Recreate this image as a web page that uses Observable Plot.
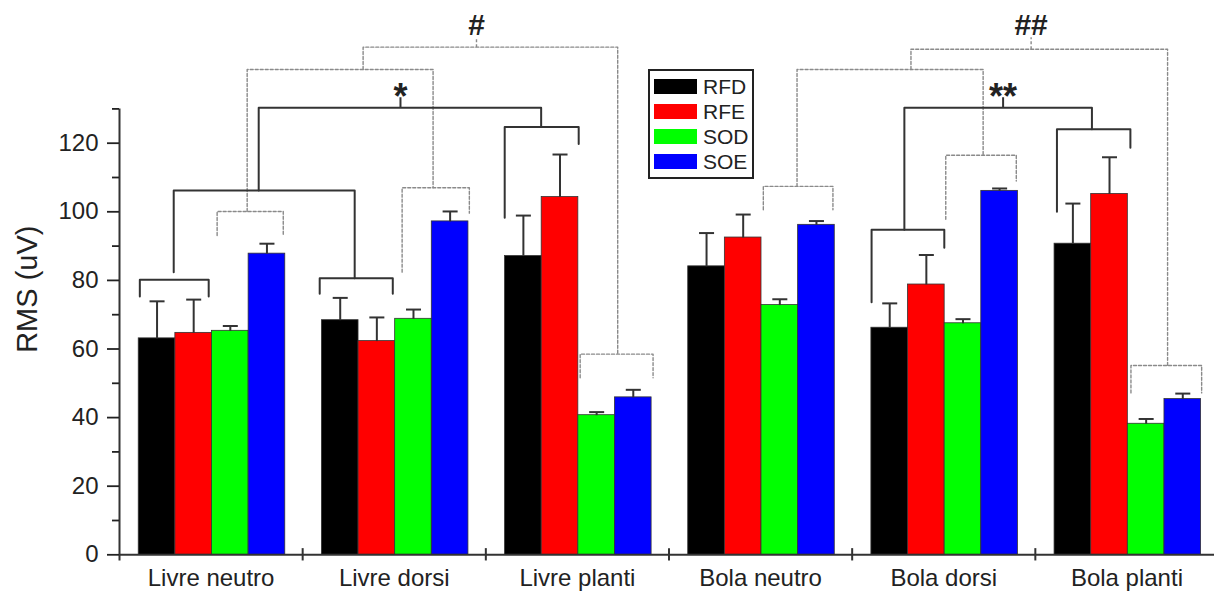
<!DOCTYPE html>
<html><head><meta charset="utf-8">
<script src="https://cdn.jsdelivr.net/npm/d3@7"></script>
<script src="https://cdn.jsdelivr.net/npm/@observablehq/plot@0.6"></script>
<style>
body{margin:0;background:#fff;}
#wrap{position:relative;width:1214px;height:592px;overflow:hidden;background:#fff;}
#legend{position:absolute;left:648px;top:69px;width:102px;height:106px;border:2px solid #222;background:#fff;font-family:"Liberation Sans",Arial,sans-serif;font-size:21px;color:#222;}
.row{position:absolute;left:4px;height:15px;display:flex;align-items:center;}
.sw{width:43px;height:15px;margin-right:6px;}
</style>
</head><body><div id="wrap"><div id="chart"></div><div id="legend"></div></div>
<script>
// ---- data ----
const categories = ["Livre neutro", "Livre dorsi", "Livre planti", "Bola neutro", "Bola dorsi", "Bola planti"];
const series = ["RFD", "RFE", "SOD", "SOE"];
const colors = ["#000000", "#ff0000", "#00ff00", "#0000ff"];

const rfd = [63.1, 68.4, 87.1, 84.1, 66.2, 90.7];
const rfe = [64.7, 62.3, 104.3, 92.5, 78.8, 105.2];
const sod = [65.3, 68.8, 40.7, 72.8, 67.5, 38.2];
const soe = [87.8, 97.2, 45.9, 96.2, 106.1, 45.4];

const rfdErr = [10.8, 6.5, 11.8, 9.7, 7.1, 11.7];
const rfeErr = [9.7, 6.9, 12.4, 6.7, 8.6, 10.7];
const sodErr = [1.4, 2.7, 0.9, 1.7, 1.2, 1.4];
const soeErr = [2.9, 2.9, 2.2, 1.1, 0.7, 1.6];

const yTicks = [0, 20, 40, 60, 80, 100, 120];
const yMinorTicks = [10, 30, 50, 70, 90, 110, 130];

// significance brackets: x in category units, y levels in uV
const solidBrackets = [
  {x1: 0.111, x2: 0.487, y: 80.2, b1: 75.3, b2: 75.3},
  {x1: 1.093, x2: 1.492, y: 80.6, b1: 76.1, b2: 76.1},
  {x1: 0.296, x2: 1.284, y: 106.2, b1: 82.4, b2: 80.6},
  {x1: 0.760, x2: 2.302, y: 130.3, b1: 106.2, b2: 124.7},
  {x1: 2.103, x2: 2.507, y: 124.7, b1: 98.3, b2: 119.8},
  {x1: 4.106, x2: 4.503, y: 94.8, b1: 73.6, b2: 89.5},
  {x1: 5.118, x2: 5.519, y: 124.1, b1: 100.0, b2: 118.7},
  {x1: 4.285, x2: 5.309, y: 130.3, b1: 94.8, b2: 124.1}
];
const dashedBrackets = [
  {x1: 0.533, x2: 0.894, y: 100.1, b1: 93.1, b2: 93.1},
  {x1: 1.543, x2: 1.910, y: 107.0, b1: 82.4, b2: 99.6},
  {x1: 0.697, x2: 1.712, y: 141.5, b1: 100.1, b2: 107.0},
  {x1: 2.515, x2: 2.913, y: 58.5, b1: 51.6, b2: 51.6},
  {x1: 1.330, x2: 2.720, y: 148.0, b1: 141.5, b2: 58.5},
  {x1: 3.515, x2: 3.895, y: 107.4, b1: 100.6, b2: 100.6},
  {x1: 4.511, x2: 4.896, y: 116.5, b1: 97.8, b2: 109.0},
  {x1: 3.699, x2: 4.715, y: 141.5, b1: 107.4, b2: 116.5},
  {x1: 5.522, x2: 5.908, y: 55.2, b1: 47.2, b2: 47.2},
  {x1: 4.321, x2: 5.722, y: 147.4, b1: 141.5, b2: 55.2}
];
const starMarks = [
  {text: "*", x: 1.534, base: 130.3, top: 133.4, ty: 136.0},
  {text: "**", x: 4.824, base: 130.3, top: 133.4, ty: 135.9}
];
const hashMarks = [
  {text: "#", x: 1.949, base: 148.0, top: 150.8, ty: 154.3},
  {text: "##", x: 4.977, base: 147.4, top: 150.9, ty: 154.3}
];

// ---- build table ----
const values = [rfd, rfe, sod, soe];
const errs = [rfdErr, rfeErr, sodErr, soeErr];
const PAD = 0.105, BW = 0.2;
const bars = [];
categories.forEach((c, i) => series.forEach((s, j) => {
  const x1 = i + PAD + j * BW;
  bars.push({cat: c, s, v: values[j][i], top: values[j][i] + errs[j][i], x1, x2: x1 + BW, xc: x1 + BW / 2});
}));
function bracketPts(list) {
  const pts = [];
  list.forEach((b, k) => {
    pts.push({k, x: b.x1, y: b.b1}, {k, x: b.x1, y: b.y}, {k, x: b.x2, y: b.y}, {k, x: b.x2, y: b.b2});
  });
  return pts;
}
const CAP = 0.041;

const chart = Plot.plot({
  width: 1214, height: 592,
  marginLeft: 119, marginRight: -4, marginTop: 108.4, marginBottom: 37.7,
  x: {domain: [0, 6]},
  y: {domain: [0, 130]},
  color: {domain: series, range: colors},
  style: {fontFamily: "'Liberation Sans', Arial, sans-serif", color: "#222", background: "transparent", overflow: "visible"},
  marks: [
    Plot.rectY(bars, {x1: "x1", x2: "x2", y: "v", fill: "s", stroke: "#333", strokeWidth: 0.8}),
    Plot.link(bars, {x1: "xc", x2: "xc", y1: "v", y2: "top", stroke: "#333", strokeWidth: 2}),
    Plot.link(bars, {x1: d => d.xc - CAP, x2: d => d.xc + CAP, y1: "top", y2: "top", stroke: "#333", strokeWidth: 2}),
    Plot.line(bracketPts(dashedBrackets), {x: "x", y: "y", z: "k", stroke: "#8a8a8a", strokeWidth: 1.4, strokeDasharray: "3,2", curve: "linear"}),
    Plot.line(bracketPts(solidBrackets), {x: "x", y: "y", z: "k", stroke: "#333", strokeWidth: 2, curve: "linear"}),
    Plot.link(starMarks, {x1: "x", x2: "x", y1: "base", y2: "top", stroke: "#333", strokeWidth: 2}),
    Plot.link(hashMarks, {x1: "x", x2: "x", y1: "base", y2: "top", stroke: "#8a8a8a", strokeWidth: 1.4, strokeDasharray: "3,2"}),
    Plot.text(starMarks, {x: "x", y: "ty", text: "text", fontSize: 36, fontWeight: "bold", fill: "#222", dy: 9}),
    Plot.text(hashMarks, {x: "x", y: "ty", text: "text", fontSize: 30, fontWeight: "bold", fill: "#222"}),
    Plot.ruleY([0], {stroke: "#333", strokeWidth: 2}),
    Plot.ruleX([0], {y1: -1.8, y2: 130, stroke: "#333", strokeWidth: 2}),
    Plot.ruleX(d3.range(1, categories.length), {y1: -1.8, y2: 1.8, stroke: "#333", strokeWidth: 2}),
    Plot.axisY({ticks: yTicks, tickSize: 12, tickPadding: 9, fontSize: 24, label: null, strokeWidth: 1.8}),
    Plot.axisY({ticks: yMinorTicks, tickSize: 7, tickFormat: () => "", label: null, strokeWidth: 1.8}),
    Plot.axisX({ticks: categories.map((c, i) => i + 0.5), tickFormat: d => categories[Math.floor(d)], tickSize: 0, tickPadding: 14, fontSize: 24, label: null}),
    Plot.text(["RMS (uV)"], {frameAnchor: "left", rotate: -90, dx: -92, dy: 21, fontSize: 29, fill: "#222"})
  ]
});
document.getElementById("chart").appendChild(chart);

// legend
const leg = document.getElementById("legend");
series.forEach((s, i) => {
  const row = document.createElement("div");
  row.className = "row";
  row.style.top = (8 + i * 25) + "px";
  const sw = document.createElement("div");
  sw.className = "sw";
  sw.style.background = colors[i];
  const t = document.createElement("span");
  t.textContent = s;
  row.appendChild(sw); row.appendChild(t);
  leg.appendChild(row);
});
</script>
</body></html>
